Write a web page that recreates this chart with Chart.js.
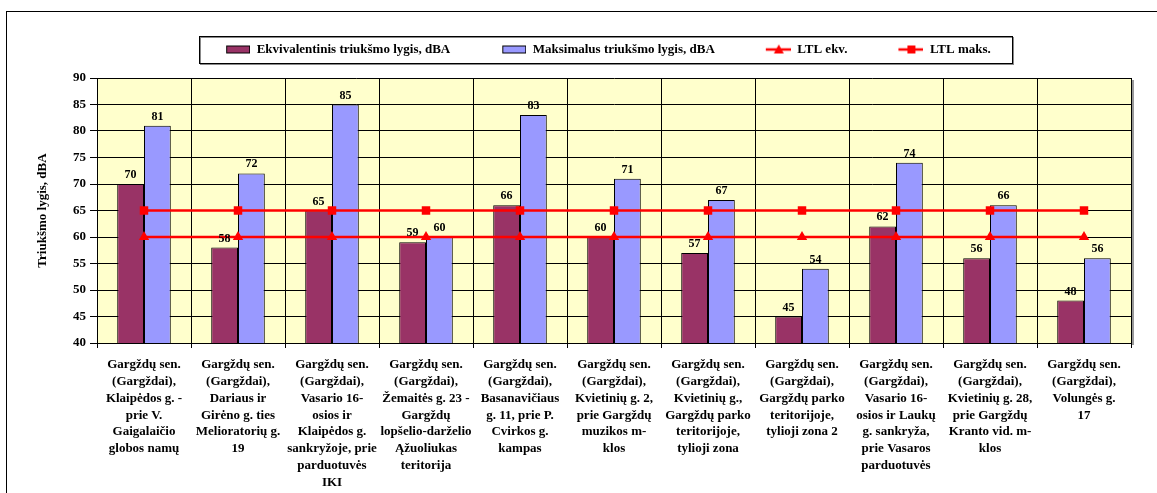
<!DOCTYPE html>
<html>
<head>
<meta charset="utf-8">
<script src="https://cdn.jsdelivr.net/npm/chart.js@4.4.1/dist/chart.umd.min.js"></script>
<style>
  html, body { margin: 0; padding: 0; background: #fff; overflow: hidden; }
  #frame {
    position: absolute; left: 6px; top: 11px; width: 1200px; height: 600px;
    border-left: 1px solid #000; border-top: 1px solid #000;
  }
  #noiseChart { position: absolute; left: 0; top: 0; }
</style>
</head>
<body>
<div id="frame">
  <canvas id="noiseChart" width="1150" height="481"></canvas>
</div>
<script>
// Measurement points (x axis)
const places = [
    ['Gargždų sen.', '(Gargždai),', 'Klaipėdos g. -', 'prie V.', 'Gaigalaičio', 'globos namų'],
    ['Gargždų sen.', '(Gargždai),', 'Dariaus ir', 'Girėno g. ties', 'Melioratorių g.', '19'],
    ['Gargždų sen.', '(Gargždai),', 'Vasario 16-', 'osios ir', 'Klaipėdos g.', 'sankryžoje, prie', 'parduotuvės', 'IKI'],
    ['Gargždų sen.', '(Gargždai),', 'Žemaitės g. 23 -', 'Gargždų', 'lopšelio-darželio', 'Ąžuoliukas', 'teritorija'],
    ['Gargždų sen.', '(Gargždai),', 'Basanavičiaus', 'g. 11, prie P.', 'Cvirkos g.', 'kampas'],
    ['Gargždų sen.', '(Gargždai),', 'Kvietinių g. 2,', 'prie Gargždų', 'muzikos m-', 'klos'],
    ['Gargždų sen.', '(Gargždai),', 'Kvietinių g.,', 'Gargždų parko', 'teritorijoje,', 'tylioji zona'],
    ['Gargždų sen.', '(Gargždai),', 'Gargždų parko', 'teritorijoje,', 'tylioji zona 2'],
    ['Gargždų sen.', '(Gargždai),', 'Vasario 16-', 'osios ir Laukų', 'g. sankryža,', 'prie Vasaros', 'parduotuvės'],
    ['Gargždų sen.', '(Gargždai),', 'Kvietinių g. 28,', 'prie Gargždų', 'Kranto vid. m-', 'klos'],
    ['Gargždų sen.', '(Gargždai),', 'Volungės g.', '17']
];

// Series values, dBA
const ekvValues  = [70, 58, 65, 59, 66, 60, 57, 45, 62, 56, 48];
const maksValues = [81, 72, 85, 60, 83, 71, 67, 54, 74, 66, 56];
const ltlEkv     = [60, 60, 60, 60, 60, 60, 60, 60, 60, 60, 60];
const ltlMaks    = [65, 65, 65, 65, 65, 65, 65, 65, 65, 65, 65];

// Y axis
const yMin = 40;
const yMax = 90;
const yStep = 5;

const seriesNames = [
    'Ekvivalentinis triukšmo lygis, dBA',
    'Maksimalus triukšmo lygis, dBA',
    'LTL ekv.',
    'LTL maks.'
];

const FONT = '"Liberation Serif", "Times New Roman", serif';
const MAROON = '#993366';
const LAVENDER = '#9999FF';
const RED = '#FF0000';

// small images used as legend symbols (swatch sits on the right, left part is spacing)
const SYM_W = 68, SYM_H = 12;
function barSymbol(color) {
    const c = document.createElement('canvas');
    c.width = SYM_W; c.height = SYM_H;
    const g = c.getContext('2d');
    g.fillStyle = color;
    g.fillRect(44.5, 2.5, 23, 7);
    g.strokeStyle = '#000';
    g.lineWidth = 1;
    g.strokeRect(44.5, 2.5, 23, 7);
    return c;
}
function lineSymbol(marker) {
    const c = document.createElement('canvas');
    c.width = SYM_W; c.height = SYM_H;
    const g = c.getContext('2d');
    g.strokeStyle = RED;
    g.lineWidth = 2.5;
    g.beginPath();
    g.moveTo(43, 6);
    g.lineTo(68, 6);
    g.stroke();
    g.fillStyle = RED;
    if (marker === 'triangle') {
        g.beginPath();
        g.moveTo(56, 1);
        g.lineTo(61, 10);
        g.lineTo(51, 10);
        g.closePath();
        g.fill();
    } else {
        g.fillRect(52, 2, 8, 8);
    }
    return c;
}
const symbols = [barSymbol(MAROON), barSymbol(LAVENDER), lineSymbol('triangle'), lineSymbol('rect')];

// value labels above bars + frame around legend + extra gap under legend
const extrasPlugin = {
    id: 'extras',
    beforeLayout(chart) {
        const legend = chart.legend;
        if (legend && !legend._gapPatched) {
            const origFit = legend.fit;
            legend.fit = function () {
                origFit.call(this);
                this.height += 12;
            };
            legend._gapPatched = true;
        }
    },
    afterDatasetsDraw(chart) {
        const ctx = chart.ctx;
        ctx.save();
        ctx.font = 'bold 12px ' + FONT;
        ctx.fillStyle = '#000';
        ctx.textAlign = 'center';
        ctx.textBaseline = 'alphabetic';
        [0, 1].forEach(di => {
            const meta = chart.getDatasetMeta(di);
            meta.data.forEach((bar, i) => {
                ctx.fillText(chart.data.datasets[di].data[i], bar.x, bar.y - 6);
            });
        });
        ctx.restore();
    },
    afterDraw(chart) {
        const boxes = chart.legend.legendHitBoxes;
        if (!boxes || !boxes.length) return;
        const first = boxes[0];
        const last = boxes[boxes.length - 1];
        const cy = first.top + 6.5;
        const left = Math.round(first.left + 17) + 0.5;
        const right = Math.round(last.left + last.width + 21) + 0.5;
        const top = Math.round(cy - 14) + 0.5;
        const bottom = Math.round(cy + 13) + 0.5;
        const ctx = chart.ctx;
        ctx.save();
        ctx.strokeStyle = '#888';
        ctx.lineWidth = 1;
        ctx.strokeRect(left + 1, top + 1, right - left, bottom - top);
        ctx.strokeStyle = '#000';
        ctx.strokeRect(left, top, right - left, bottom - top);
        ctx.restore();
    }
};

// plot area background
const plotBgPlugin = {
    id: 'plotBg',
    beforeDraw(chart) {
        const a = chart.chartArea;
        const ctx = chart.ctx;
        ctx.save();
        ctx.fillStyle = '#FFFFCC';
        ctx.fillRect(a.left, a.top, a.right - a.left, a.bottom - a.top);
        ctx.fillStyle = '#999';
        ctx.fillRect(a.right + 1, a.top + 2, 2, a.bottom - a.top);
        ctx.restore();
    }
};

const ctx = document.getElementById('noiseChart').getContext('2d');
new Chart(ctx, {
    type: 'bar',
    data: {
        labels: places,
        datasets: [
            {
                label: seriesNames[0],
                data: ekvValues,
                backgroundColor: MAROON,
                borderColor: '#000',
                borderWidth: 1,
                order: 1
            },
            {
                label: seriesNames[1],
                data: maksValues,
                backgroundColor: LAVENDER,
                borderColor: '#000',
                borderWidth: 1,
                order: 1
            },
            {
                type: 'line',
                label: seriesNames[2],
                data: ltlEkv,
                borderColor: RED,
                backgroundColor: RED,
                borderWidth: 2.5,
                pointStyle: 'triangle',
                pointRadius: 6,
                pointBorderWidth: 0,
                fill: false,
                order: -1
            },
            {
                type: 'line',
                label: seriesNames[3],
                data: ltlMaks,
                borderColor: RED,
                backgroundColor: RED,
                borderWidth: 2.5,
                pointStyle: 'rect',
                pointRadius: 6,
                pointBorderWidth: 0,
                fill: false,
                order: -1
            }
        ]
    },
    options: {
        responsive: false,
        animation: false,
        devicePixelRatio: 1,
        layout: {
            padding: { top: 23, left: 35, right: 26, bottom: 0 }
        },
        datasets: {
            bar: { categoryPercentage: 0.57, barPercentage: 1.0 }
        },
        plugins: {
            tooltip: { enabled: false },
            legend: {
                position: 'top',
                labels: {
                    usePointStyle: true,
                    pointStyleWidth: SYM_W,
                    padding: 8,
                    color: '#000',
                    font: { family: FONT, size: 13, weight: 'bold' },
                    generateLabels(chart) {
                        return chart.data.datasets.map((ds, i) => ({
                            text: ds.label,
                            datasetIndex: i,
                            pointStyle: symbols[i],
                            fillStyle: 'transparent',
                            strokeStyle: 'transparent',
                            lineWidth: 0,
                            hidden: false,
                            fontColor: '#000'
                        }));
                    }
                }
            }
        },
        scales: {
            x: {
                offset: true,
                grid: {
                    offset: true,
                    color: '#000',
                    lineWidth: 1,
                    tickLength: 5,
                    drawTicks: true
                },
                border: { color: '#000', width: 1 },
                ticks: {
                    autoSkip: false,
                    maxRotation: 0,
                    minRotation: 0,
                    padding: 8,
                    color: '#000',
                    font: { family: FONT, size: 13, weight: 'bold', lineHeight: 1.3 }
                },
                afterFit(scale) { scale.height = 150; }
            },
            y: {
                min: yMin,
                max: yMax,
                grid: {
                    color: '#000',
                    lineWidth: 1,
                    tickLength: 7
                },
                border: { color: '#000', width: 1 },
                ticks: {
                    stepSize: yStep,
                    padding: 4,
                    color: '#000',
                    font: { family: FONT, size: 13, weight: 'bold' }
                },
                title: {
                    display: true,
                    text: 'Triukšmo lygis, dBA',
                    color: '#000',
                    padding: { top: -7, bottom: 0 },
                    font: { family: FONT, size: 13, weight: 'bold' }
                },
                afterFit(scale) { scale.width = 55; }
            }
        }
    },
    plugins: [plotBgPlugin, extrasPlugin]
});
</script>
</body>
</html>
